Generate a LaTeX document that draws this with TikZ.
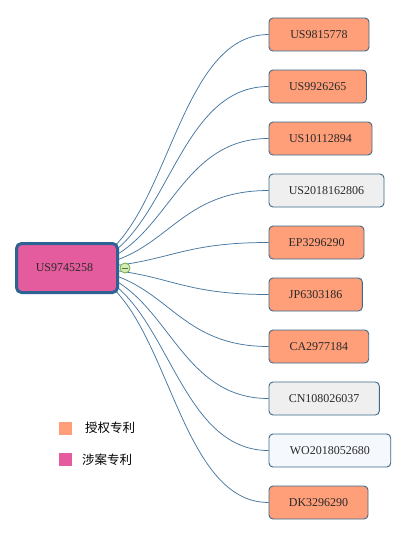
\documentclass[tikz,border=0pt]{standalone}
\usepackage{fontspec}
\setmainfont{Liberation Serif}
\newfontfamily\cjk{Noto Sans CJK SC}
\usetikzlibrary{calc,backgrounds}
\definecolor{leaforange}{HTML}{FF9F79}
\definecolor{leafgray}{HTML}{EFEFEF}
\definecolor{leafwhite}{HTML}{F5F8FC}
\definecolor{leafborder}{HTML}{3E6A8A}
\definecolor{rootfill}{HTML}{E55C9E}
\definecolor{rootborder}{HTML}{2D6394}
\definecolor{edgecol}{HTML}{4677A0}
\definecolor{txt}{HTML}{2A2A2A}
\definecolor{expfill}{HTML}{D6EDB8}
\definecolor{expborder}{HTML}{72AD45}
\tikzset{
  leaf/.style={draw=leafborder, line width=0.9pt, rounded corners=4pt, minimum height=33pt,
    inner sep=0pt, text=txt, font=\fontsize{12}{14}\selectfont},
  rootbox/.style={draw=rootborder, line width=3pt, fill=rootfill, rounded corners=5pt,
    minimum width=101pt, minimum height=49pt, inner sep=0pt, text=txt, font=\fontsize{12}{14}\selectfont},
  edge/.style={draw=edgecol, line width=0.75pt},
  expander/.style={circle, draw=expborder, fill=expfill, line width=0.8pt, minimum size=10pt, inner sep=0pt,
    path picture={\draw[expborder!70!black, line width=0.9pt] ([xshift=-3pt]path picture bounding box.center) -- ([xshift=3pt]path picture bounding box.center);}},
  legsq/.style={minimum size=13pt, inner sep=0pt},
  legtxt/.style={anchor=west, inner sep=0pt, font=\cjk\fontsize{12.5}{14}\selectfont, text=black}
}
\begin{document}
\begin{tikzpicture}[x=1pt,y=-1pt]
\useasboundingbox (0,0) rectangle (407,535);
\node[rootbox] (r) at (67,268) {\hspace*{-5pt}US9745258};
\node[leaf, fill=leaforange, minimum width=100pt] (n1) at (319,34.5) {US9815778};
\node[leaf, fill=leaforange, minimum width=97.5pt] (n2) at (317.75,86.5) {US9926265};
\node[leaf, fill=leaforange, minimum width=103pt] (n3) at (320.5,138.5) {US10112894};
\node[leaf, fill=leafgray, minimum width=115pt] (n4) at (326.5,190.5) {US2018162806};
\node[leaf, fill=leaforange, minimum width=95pt] (n5) at (316.5,242.5) {EP3296290};
\node[leaf, fill=leaforange, minimum width=93.3pt] (n6) at (315.65,294.5) {JP6303186};
\node[leaf, fill=leaforange, minimum width=99.7pt] (n7) at (318.85,346.5) {CA2977184};
\node[leaf, fill=leafgray, minimum width=110.3pt] (n8) at (324.15,398.5) {CN108026037};
\node[leaf, fill=leafwhite, minimum width=121.7pt] (n9) at (329.85,450.5) {WO2018052680};
\node[leaf, fill=leaforange, minimum width=99pt] (n10) at (318.5,502.5) {DK3296290};
\begin{scope}[on background layer]
\fill[white] (0,0) rectangle (407,535);
\foreach \n in {n1,n2,n3,n4,n5,n6,n7,n8,n9,n10}{
  \draw[edge] (r.center) .. controls ($(r.center)!0.5!(r.center -| \n.west)$) and ($(r.center |- \n.west)!0.5!(\n.west)$) .. (\n.west);
}
\end{scope}
\node[expander] (ex) at (125,268) {};
\node[legsq, fill=leaforange] (l1) at (65.5,428.5) {};
\node[legtxt] (t1) at (85,428) {授权专利};
\node[legsq, fill=rootfill] (l2) at (65.5,459.5) {};
\node[legtxt] (t2) at (82,460) {涉案专利};
\end{tikzpicture}
\end{document}
